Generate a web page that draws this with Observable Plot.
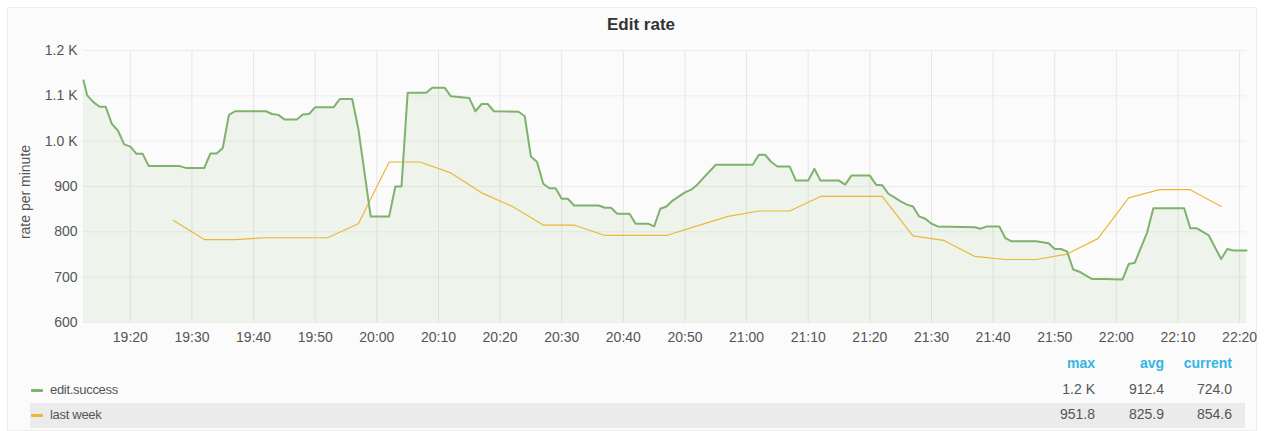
<!DOCTYPE html>
<html>
<head>
<meta charset="utf-8">
<script src="https://cdn.jsdelivr.net/npm/d3@7"></script>
<script src="https://cdn.jsdelivr.net/npm/@observablehq/plot@0.6"></script>
<style>
  html, body { margin: 0; padding: 0; background: #ffffff; width: 1264px; height: 431px; overflow: hidden; }
  #panel { position: absolute; left: 7px; top: 7px; width: 1250px; height: 424px; background: #fbfbfb; border: 1px solid #eeeeee; box-sizing: border-box; }
  #title { position: absolute; left: 0; top: 15px; width: 1282px; text-align: center; font: bold 17px "Liberation Sans", Arial, sans-serif; color: #333; }
  #chart { position: absolute; left: 0; top: 40px; }
  #ylabel { position: absolute; left: 25px; top: 192px; transform: translate(-50%, -50%) rotate(-90deg); white-space: nowrap; font: 14px "Liberation Sans", Arial, sans-serif; color: #555; }
  .lg { position: absolute; font: 14px "Liberation Sans", Arial, sans-serif; color: #555; }
  .name { font-size: 13px; letter-spacing: -0.3px; }
  .hd { color: #33b5e5; font-weight: bold; }
  .num { text-align: right; width: 80px; }
  .sw { position: absolute; width: 12px; height: 3px; border-radius: 1px; }
  #row2 { position: absolute; left: 30px; top: 403px; width: 1215px; height: 25px; background: #ebebeb; }
</style>
</head>
<body>
<div id="panel"></div>
<div id="title">Edit rate</div>
<div id="chart"></div>
<div id="ylabel">rate per minute</div>
<div id="row2"></div>
<div id="legend"></div>
<script>
// ---- data ----
const seriesNames = ["edit.success", "last week"];
const seriesColors = ["#7EB26D", "#EAB839"];

const successTimes = ["19:12:24","19:13","19:14","19:15","19:16","19:17","19:18","19:19","19:20","19:21","19:22","19:23","19:28","19:29","19:32","19:33","19:34","19:35","19:36","19:37","19:42","19:43","19:44","19:45","19:47","19:48","19:49","19:50","19:53","19:54","19:56","19:57","19:59","20:02","20:03","20:04","20:05","20:08","20:09","20:11","20:12","20:15","20:16","20:17","20:18","20:19","20:23","20:24","20:25","20:26","20:27","20:28","20:29","20:30","20:31","20:32","20:36","20:37","20:38","20:39","20:41","20:42","20:44","20:45","20:46","20:47","20:48","20:50","20:51","20:52","20:53","20:55","21:01","21:02","21:03","21:04","21:05","21:07","21:08","21:10","21:11","21:12","21:15","21:16","21:17","21:20","21:21","21:22","21:23","21:24","21:25","21:26","21:27","21:28","21:29","21:30","21:31","21:37","21:38","21:39","21:41","21:42","21:43","21:47","21:49","21:50","21:51","21:52","21:53","21:54","21:56","21:58","22:01","22:02","22:03","22:05","22:06","22:11","22:12","22:13","22:15","22:17","22:18","22:19","22:21:07"];
const successValues = [1134,1101,1086,1076,1076,1038,1023,993,988,972,972,945,945,941,941,973,973,985,1058,1066,1066,1060,1058,1048,1048,1059,1060,1075,1075,1093,1093,1027,834,834,900,900,1107,1107,1118,1118,1099,1095,1066,1082,1082,1066,1065,1055,966,954,906,896,896,873,873,858,858,853,853,840,840,818,818,812,851,856,869,887,893,904,919,948,948,970,970,954,944,944,913,913,939,913,913,904,924,924,904,903,884,876,867,860,856,834,829,818,812,810,807,812,812,786,779,779,775,762,762,757,717,712,696,696,695,729,732,799,852,852,808,808,792,740,762,759,759];

const lastWeekTimes = ["19:27","19:32","19:37","19:42","19:47","19:52","19:57","20:02","20:07","20:12","20:17","20:22","20:27","20:32","20:37","20:42","20:47","20:52","20:57","21:02","21:07","21:12","21:17","21:22","21:27","21:32","21:37","21:42","21:47","21:52","21:57","22:02","22:07","22:12","22:17"];
const lastWeekValues = [825,783,783,787,787,787,818,954,954,930,886,856,815,815,792,792,792,813,834,846,846,878,878,878,791,781,746,739,739,751,785,875,893,893,856];

const xTickLabels = ["19:20","19:30","19:40","19:50","20:00","20:10","20:20","20:30","20:40","20:50","21:00","21:10","21:20","21:30","21:40","21:50","22:00","22:10","22:20"];
const yTickValues = [600,700,800,900,1000,1100,1200];
const yTickLabels = ["600","700","800","900","1.0 K","1.1 K","1.2 K"];

const legendHeaders = ["max", "avg", "current"];
const legendValues = [["1.2 K", "912.4", "724.0"], ["951.8", "825.9", "854.6"]];

// ---- build ----
const parseT = s => {
  const p = s.split(":").map(Number);
  return new Date(Date.UTC(2017, 0, 1, p[0], p[1], p[2] || 0));
};
const success = successTimes.map((t, i) => ({t: parseT(t), v: successValues[i]}));
const lastWeek = lastWeekTimes.map((t, i) => ({t: parseT(t), v: lastWeekValues[i]}));
const xTicks = xTickLabels.map(parseT);
const yFmt = d => yTickLabels[yTickValues.indexOf(d)];

const chart = Plot.plot({
  width: 1264,
  height: 310,
  marginLeft: 83,
  marginRight: 18,
  marginTop: 10,
  marginBottom: 28,
  style: {background: "transparent", fontFamily: "'Liberation Sans', Arial, sans-serif", fontSize: "14px", color: "#555"},
  x: {type: "utc", domain: [success[0].t, success[success.length - 1].t]},
  y: {domain: [600, 1200]},
  marks: [
    Plot.gridX(xTicks, {stroke: "#e6e6e6", strokeOpacity: 1}),
    Plot.gridY(yTickValues, {stroke: "#ececec", strokeOpacity: 1}),
    Plot.areaY(success, {x: "t", y1: 600, y2: "v", fill: seriesColors[0], fillOpacity: 0.1}),
    Plot.lineY(lastWeek, {x: "t", y: "v", stroke: seriesColors[1], strokeWidth: 1.2}),
    Plot.lineY(success, {x: "t", y: "v", stroke: seriesColors[0], strokeWidth: 2}),
    Plot.axisX(xTicks, {tickSize: 0, tickPadding: 10, tickFormat: d => d3.utcFormat("%H:%M")(d), label: null, fill: "#555", fontSize: 14}),
    Plot.axisY(yTickValues, {tickSize: 0, tickPadding: 6, tickFormat: yFmt, fill: "#555", fontSize: 14, label: null})
  ]
});
document.getElementById("chart").appendChild(chart);

// ---- legend ----
const lg = document.getElementById("legend");
const rightEdges = [1095, 1164, 1232];
legendHeaders.forEach((h, i) => {
  const d = document.createElement("div");
  d.className = "lg hd num";
  d.style.left = (rightEdges[i] - 80) + "px";
  d.style.top = "355px";
  d.textContent = h;
  lg.appendChild(d);
});
const rowTops = [381, 406];
seriesNames.forEach((name, r) => {
  const sw = document.createElement("div");
  sw.className = "sw";
  sw.style.left = "31px";
  sw.style.top = (rowTops[r] + 8) + "px";
  sw.style.background = seriesColors[r];
  lg.appendChild(sw);
  const t = document.createElement("div");
  t.className = "lg name";
  t.style.left = "50px";
  t.style.top = (rowTops[r] + 1) + "px";
  t.textContent = name;
  lg.appendChild(t);
  legendValues[r].forEach((v, i) => {
    const d = document.createElement("div");
    d.className = "lg num";
    d.style.left = (rightEdges[i] - 80) + "px";
    d.style.top = rowTops[r] + "px";
    d.textContent = v;
    lg.appendChild(d);
  });
});
</script>
</body>
</html>
